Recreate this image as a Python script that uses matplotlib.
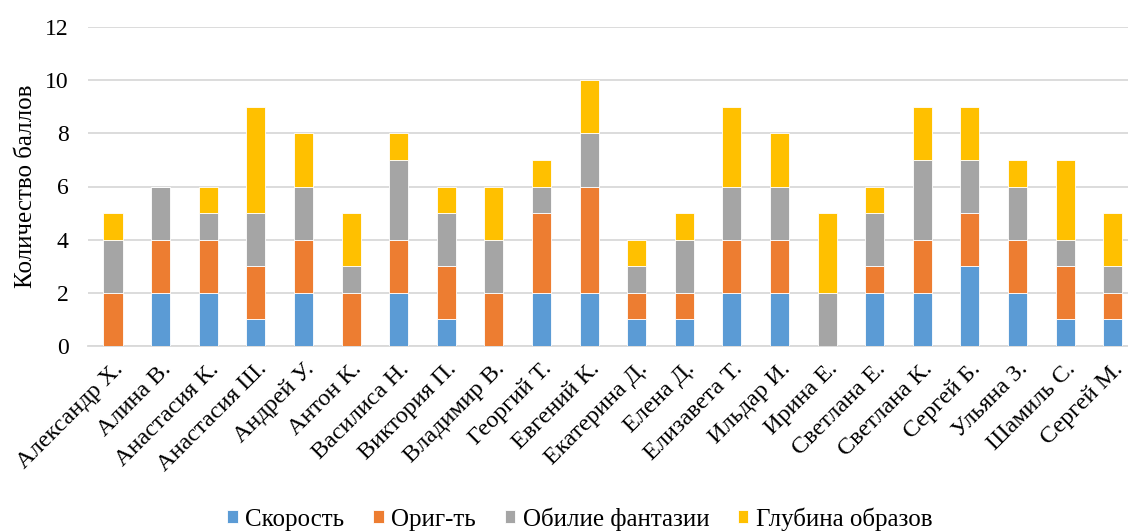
import numpy as np
import matplotlib
matplotlib.use("Agg")
import matplotlib.pyplot as plt

plt.rcParams['font.family'] = ['Liberation Serif', 'DejaVu Serif']

names = ['Александр Х.', 'Алина В.', 'Анастасия К.', 'Анастасия Ш.', 'Андрей У.',
         'Антон К.', 'Василиса Н.', 'Виктория П.', 'Владимир В.', 'Георгий Т.',
         'Евгений К.', 'Екатерина Д.', 'Елена Д.', 'Елизавета Т.', 'Ильдар И.',
         'Ирина Е.', 'Светлана Е.', 'Светлана К.', 'Сергей Б.', 'Ульяна З.',
         'Шамиль С.', 'Сергей М.']

speed    = [0, 2, 2, 1, 2, 0, 2, 1, 0, 2, 2, 1, 1, 2, 2, 0, 2, 2, 3, 2, 1, 1]
orig     = [2, 2, 2, 2, 2, 2, 2, 2, 2, 3, 4, 1, 1, 2, 2, 0, 1, 2, 2, 2, 2, 1]
fantasy  = [2, 2, 1, 2, 2, 1, 3, 2, 2, 1, 2, 1, 2, 2, 2, 2, 2, 3, 2, 2, 1, 1]
depth    = [1, 0, 1, 4, 2, 2, 1, 1, 2, 1, 2, 1, 1, 3, 2, 3, 1, 2, 2, 1, 3, 2]

series = [('Скорость', speed, '#5B9BD5'),
          ('Ориг-ть', orig, '#ED7D31'),
          ('Обилие фантазии', fantasy, '#A5A5A5'),
          ('Глубина образов', depth, '#FFC000')]

fig = plt.figure(figsize=(11.28, 5.32), dpi=100)
ax = fig.add_axes([88 / 1128, 1 - 346 / 532, 1040 / 1128, 319 / 532])

x = np.arange(len(names))
bottom = np.zeros(len(names))
for label, vals, color in series:
    ax.bar(x, vals, 0.4, bottom=bottom, color=color, label=label,
           edgecolor='white', linewidth=0.6, zorder=3)
    bottom += np.array(vals)

ax.set_ylim(0, 12)
ax.set_yticks(range(0, 13, 2))
ax.set_xlim(-0.525, 21.32)
ax.set_xticks(x)
ax.set_xticklabels(names, rotation=45, ha='right', rotation_mode='anchor', fontsize=17.5)
ax.tick_params(axis='y', labelsize=17, length=0, pad=14)
ax.tick_params(axis='x', length=0, pad=9)
ax.grid(axis='y', color='#D9D9D9', linewidth=1.3, zorder=0)
for s in ['top', 'right', 'left']:
    ax.spines[s].set_visible(False)
ax.spines['bottom'].set_color('#D9D9D9')
ax.spines['bottom'].set_linewidth(1.3)
ax.set_ylabel('Количество баллов', fontsize=18, labelpad=6)

fig.legend(loc='lower center', bbox_to_anchor=(0.514, -0.04), ncol=4, frameon=False,
           fontsize=18, handlelength=0.42, handleheight=0.42, handletextpad=0.3,
           columnspacing=1.15)

fig.savefig('out.png', dpi=100)
